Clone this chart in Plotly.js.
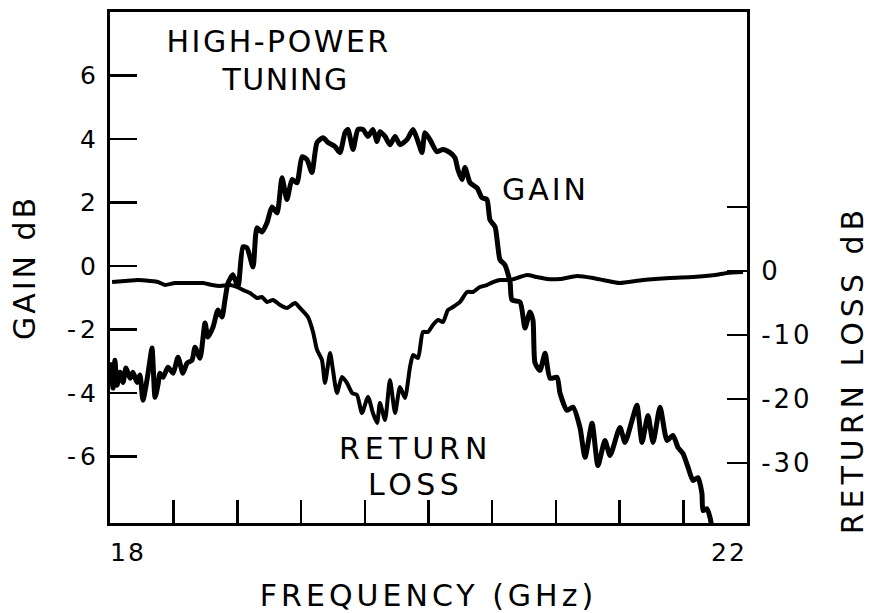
<!DOCTYPE html>
<html>
<head>
<meta charset="utf-8">
<script src="https://cdn.plot.ly/plotly-3.0.1.min.js"></script>
<style>
  html, body { margin: 0; padding: 0; background: #fff; }
  #chart { width: 870px; height: 613px; }
  #chart .xtitle { letter-spacing: 4px; }
  #chart .ytitle { letter-spacing: 3px; }
  #chart .ytick text { letter-spacing: 4px; }
  #chart .y2tick text { letter-spacing: 3px; }
  #chart g.annotation[data-index="0"] text { letter-spacing: 2.5px; }
  #chart g.annotation[data-index="1"] text { letter-spacing: 1.5px; }
  #chart g.annotation[data-index="2"] text { letter-spacing: 3px; }
  #chart g.annotation[data-index="3"] text { letter-spacing: 5px; }
  #chart g.annotation[data-index="4"] text { letter-spacing: 4.5px; }
  #chart g.annotation[data-index="5"] text { letter-spacing: 2px; }
  #chart g.annotation[data-index="6"] text { letter-spacing: 2px; }
  #chart g.annotation[data-index="7"] text { letter-spacing: 5px; }
</style>
</head>
<body>
<div id="chart"></div>
<script>
// ---- Data ----
const freqGain = [18.006, 18.019, 18.031, 18.044, 18.063, 18.082, 18.100, 18.126, 18.144, 18.170, 18.188, 18.207, 18.232, 18.251, 18.264, 18.283, 18.301, 18.314, 18.333, 18.364, 18.396, 18.427, 18.458, 18.484, 18.515, 18.534, 18.565, 18.597, 18.615, 18.647, 18.678, 18.703, 18.722, 18.741, 18.772, 18.804, 18.835, 18.860, 18.898, 18.923, 18.954, 18.986, 19.017, 19.049, 19.080, 19.111, 19.143, 19.174, 19.206, 19.237, 19.268, 19.300, 19.338, 19.369, 19.413, 19.444, 19.476, 19.494, 19.526, 19.557, 19.589, 19.620, 19.651, 19.677, 19.695, 19.727, 19.758, 19.790, 19.821, 19.865, 19.903, 19.934, 19.959, 19.978, 20.009, 20.053, 20.091, 20.135, 20.166, 20.185, 20.210, 20.229, 20.261, 20.305, 20.336, 20.367, 20.386, 20.418, 20.436, 20.449, 20.480, 20.512, 20.524, 20.575, 20.606, 20.637, 20.656, 20.669, 20.700, 20.732, 20.763, 20.807, 20.826, 20.870, 20.907, 20.951, 20.983, 21.027, 21.064, 21.108, 21.140, 21.202, 21.234, 21.278, 21.309, 21.341, 21.378, 21.410, 21.454, 21.498, 21.535, 21.567, 21.598, 21.630, 21.661, 21.692, 21.717, 21.724, 21.749, 21.768, 21.780];
const gainDb = [-3.03, -3.85, -2.97, -3.76, -3.35, -3.67, -3.22, -3.54, -3.35, -3.67, -3.44, -4.23, -3.60, -2.97, -2.59, -4.14, -3.76, -3.38, -3.51, -3.19, -3.38, -2.88, -3.38, -3.06, -2.97, -2.56, -2.91, -1.80, -2.24, -1.93, -1.39, -1.61, -1.07, -0.54, -0.28, -0.66, 0.60, 0.57, -0.03, 1.20, 1.07, 1.36, 1.86, 1.67, 2.78, 2.09, 2.72, 2.62, 3.44, 3.35, 2.94, 3.89, 4.04, 3.89, 3.76, 3.57, 4.20, 4.30, 3.67, 4.30, 4.30, 4.08, 4.30, 3.92, 4.23, 4.08, 3.82, 4.08, 3.82, 3.98, 4.30, 3.92, 3.57, 4.20, 3.98, 3.60, 3.67, 3.57, 3.41, 3.03, 2.72, 3.10, 2.62, 2.46, 2.15, 2.09, 1.45, 1.23, 0.60, 0.19, 0.03, -0.51, -1.07, -1.14, -1.96, -1.45, -1.71, -3.06, -3.29, -2.75, -3.54, -3.51, -4.01, -4.55, -4.45, -5.09, -6.03, -4.96, -6.29, -5.50, -5.97, -5.09, -5.56, -4.87, -4.39, -5.56, -4.71, -5.56, -4.45, -5.50, -5.34, -5.72, -5.91, -6.35, -6.76, -6.67, -7.17, -7.71, -7.65, -7.93, -8.25];

const freqRL = [18.013, 18.094, 18.176, 18.251, 18.301, 18.345, 18.408, 18.490, 18.584, 18.641, 18.691, 18.754, 18.797, 18.835, 18.879, 18.923, 18.954, 18.986, 19.024, 19.068, 19.111, 19.162, 19.193, 19.243, 19.275, 19.300, 19.331, 19.350, 19.382, 19.400, 19.425, 19.457, 19.488, 19.520, 19.551, 19.582, 19.620, 19.651, 19.677, 19.695, 19.727, 19.758, 19.790, 19.821, 19.852, 19.884, 19.903, 19.934, 19.965, 19.997, 20.028, 20.060, 20.091, 20.122, 20.154, 20.198, 20.242, 20.279, 20.323, 20.367, 20.405, 20.449, 20.512, 20.575, 20.619, 20.681, 20.744, 20.826, 20.933, 21.033, 21.096, 21.159, 21.202, 21.347, 21.516, 21.661, 21.799, 21.874, 21.975];
const returnLossDb = [-1.72, -1.56, -1.41, -1.56, -1.72, -2.19, -1.88, -1.88, -1.88, -2.19, -2.34, -2.19, -2.50, -2.97, -3.44, -4.22, -4.06, -4.84, -4.53, -5.31, -5.78, -5.00, -5.78, -7.19, -9.53, -12.34, -13.91, -17.50, -12.81, -15.47, -19.06, -16.56, -17.50, -19.06, -19.38, -22.19, -19.69, -22.19, -23.75, -20.63, -23.28, -17.03, -22.19, -18.13, -19.84, -15.00, -13.13, -13.59, -9.53, -9.53, -8.44, -7.66, -7.97, -6.09, -5.63, -4.84, -3.28, -3.28, -2.50, -2.19, -1.72, -1.41, -1.41, -0.94, -0.63, -0.94, -1.25, -1.25, -0.78, -1.09, -1.41, -1.72, -1.88, -1.41, -1.09, -0.94, -0.63, -0.31, -0.16];

const freqTicks = [18.4, 18.8, 19.2, 19.6, 20.0, 20.4, 20.8, 21.2, 21.6];
const gainTicks = [-6, -4, -2, 0, 2, 4, 6];
const gainTickText = ['-6', '-4', '-2', '0', '2', '4', '6'];
const rlTicks = [10, 0, -10, -20, -30];
const rlTickText = ['', '0', '-10', '-20', '-30'];

// ---- Chart ----
const FONT = 'DejaVu Sans, Liberation Sans, sans-serif';
const INK = '#000000';

const traces = [
  {
    x: freqGain, y: gainDb, type: 'scatter', mode: 'lines', name: 'GAIN',
    line: { color: INK, width: 5, shape: 'spline', smoothing: 0.6 },
    yaxis: 'y', hoverinfo: 'skip'
  },
  {
    x: freqRL, y: returnLossDb, type: 'scatter', mode: 'lines', name: 'RETURN LOSS',
    line: { color: INK, width: 4, shape: 'spline', smoothing: 0.6 },
    yaxis: 'y2', hoverinfo: 'skip'
  }
];

const annFont = (s) => ({ size: s, family: FONT, color: INK });

const layout = {
  width: 870, height: 613,
  margin: { l: 110, r: 123, t: 12, b: 90, pad: 0 },
  paper_bgcolor: '#ffffff', plot_bgcolor: '#ffffff',
  showlegend: false,
  font: { family: FONT, color: INK, size: 24 },
  xaxis: {
    range: [18, 22], showgrid: false, zeroline: false,
    showline: true, linecolor: INK, linewidth: 3, mirror: true,
    tickmode: 'array', tickvals: freqTicks,
    ticks: 'inside', ticklen: 23, tickwidth: 2.5, tickcolor: INK,
    showticklabels: false,
    title: { text: 'FREQUENCY (GHz)', font: { size: 30, family: FONT }, standoff: 62 },
    automargin: false, fixedrange: true
  },
  yaxis: {
    range: [-8.1, 8.0], showgrid: false, zeroline: false,
    showline: true, linecolor: INK, linewidth: 3,
    tickmode: 'array', tickvals: gainTicks, ticktext: gainTickText,
    ticks: 'inside', ticklen: 27, tickwidth: 2.5, tickcolor: INK,
    tickfont: { size: 25, family: FONT }, ticklabelstandoff: 2,
    title: { text: 'GAIN dB', font: { size: 30, family: FONT }, standoff: 31 },
    automargin: false, fixedrange: true
  },
  yaxis2: {
    overlaying: 'y', side: 'right',
    range: [-39.4, 40.5], showgrid: false, zeroline: false,
    showline: true, linecolor: INK, linewidth: 3,
    tickmode: 'array', tickvals: rlTicks, ticktext: rlTickText,
    ticks: 'inside', ticklen: 20, tickwidth: 2.5, tickcolor: INK,
    tickfont: { size: 26, family: FONT }, ticklabelstandoff: 6,
    automargin: false, fixedrange: true
  },
  annotations: [
    { text: 'HIGH-POWER', x: 19.061, y: 7.06, xref: 'x', yref: 'y', showarrow: false, xanchor: 'center', yanchor: 'middle', font: annFont(30) },
    { text: 'TUNING', x: 19.099, y: 5.88, xref: 'x', yref: 'y', showarrow: false, xanchor: 'center', yanchor: 'middle', font: annFont(30) },
    { text: 'GAIN', x: 20.732, y: 2.40, xref: 'x', yref: 'y', showarrow: false, xanchor: 'center', yanchor: 'middle', font: annFont(30) },
    { text: 'RETURN', x: 19.921, y: -5.75, xref: 'x', yref: 'y', showarrow: false, xanchor: 'center', yanchor: 'middle', font: annFont(30) },
    { text: 'LOSS', x: 19.921, y: -6.89, xref: 'x', yref: 'y', showarrow: false, xanchor: 'center', yanchor: 'middle', font: annFont(30) },
    { text: '18', x: 18, y: -0.057, xref: 'x', yref: 'paper', showarrow: false, xanchor: 'left', yanchor: 'middle', font: annFont(25) },
    { text: '22', x: 22, y: -0.057, xref: 'x', yref: 'paper', showarrow: false, xanchor: 'right', yanchor: 'middle', font: annFont(25) },
    { text: 'RETURN LOSS dB', x: 1.165, y: 0.299, xref: 'paper', yref: 'paper', showarrow: false, textangle: -90, xanchor: 'center', yanchor: 'middle', font: annFont(30) }
  ]
};

Plotly.newPlot('chart', traces, layout, { staticPlot: true, displayModeBar: false });
</script>
</body>
</html>
